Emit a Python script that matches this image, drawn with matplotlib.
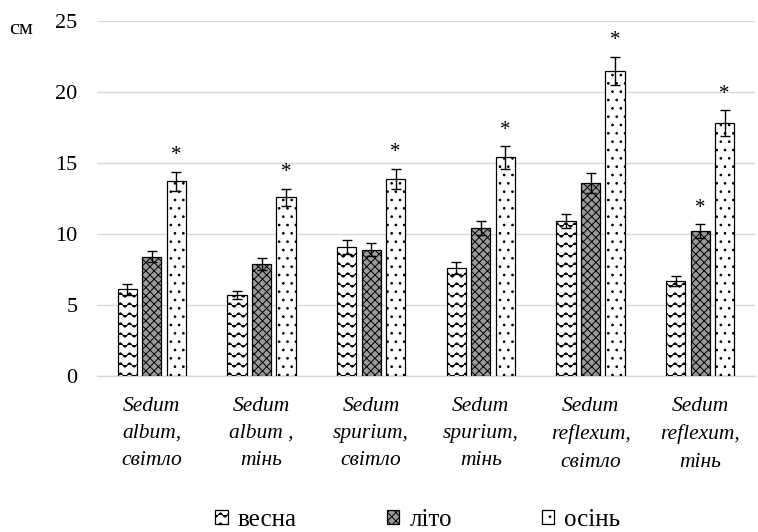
import numpy as np
import matplotlib
matplotlib.use("Agg")
import matplotlib.pyplot as plt
import matplotlib.hatch as mhatch
from matplotlib.path import Path

# ---------------- data ----------------
categories = ["Sedum\nalbum,\nсвітло", "Sedum\nalbum ,\nтінь", "Sedum\nspurium,\nсвітло",
              "Sedum\nspurium,\nтінь", "Sedum\nreflexum,\nсвітло", "Sedum\nreflexum,\nтінь"]
series_names = ["весна", "літо", "осінь"]
spring = [6.1, 5.7, 9.1, 7.6, 10.9, 6.7]
summer = [8.4, 7.9, 8.9, 10.4, 13.6, 10.2]
autumn = [13.7, 12.6, 13.9, 15.4, 21.5, 17.8]
spring_err = [0.4, 0.3, 0.5, 0.4, 0.5, 0.35]
summer_err = [0.4, 0.4, 0.45, 0.5, 0.7, 0.5]
autumn_err = [0.7, 0.6, 0.7, 0.8, 1.0, 0.9]
# significance marks (1 = asterisk)
spring_sig = [0, 0, 0, 0, 0, 0]
summer_sig = [0, 0, 0, 0, 0, 1]
autumn_sig = [1, 1, 1, 1, 1, 1]
yticks = [0, 5, 10, 15, 20, 25]
unit_label = "см"


# ---------------- custom wave hatch (replaces '-') ----------------
class WaveHatch(mhatch.HatchPatternBase):
    pts_per_period = 8

    def __init__(self, hatch, density):
        n = hatch.count('-') + hatch.count('+')
        self.num_rows = int(n * 5)
        self.periods = int(n * 5.5)
        if self.num_rows:
            self.npts = self.periods * self.pts_per_period + 1
            self.num_vertices = self.num_rows * self.npts
        else:
            self.num_vertices = 0

    def set_vertices_and_codes(self, vertices, codes):
        n = self.npts
        x = np.linspace(0, 1, n)
        amp = 0.22 / self.num_rows
        for k in range(self.num_rows):
            y0 = (k + 0.5) / self.num_rows
            y = y0 + amp * np.sin(2 * np.pi * self.periods * x)
            vertices[k * n:(k + 1) * n, 0] = x
            vertices[k * n:(k + 1) * n, 1] = y
            codes[k * n] = Path.MOVETO
            codes[k * n + 1:(k + 1) * n] = Path.LINETO


mhatch._hatch_types[0] = WaveHatch

plt.rcParams['font.family'] = ['Liberation Serif', 'DejaVu Serif']
plt.rcParams['hatch.linewidth'] = 0.7

fig = plt.figure(figsize=(7.58, 5.32), dpi=100)
W, H = 758, 532
ax = fig.add_axes([97 / W, 1 - 376 / H, (755 - 97) / W, (376 - 21) / H])

x = np.arange(len(categories))
off = 0.223
bw = 0.175
styles = [
    dict(facecolor='white', hatch='--'),
    dict(facecolor='#9a9a9a', hatch='xxxx'),
    dict(facecolor='white', hatch='..'),
]
vals = [spring, summer, autumn]
errs = [spring_err, summer_err, autumn_err]
sigs = [spring_sig, summer_sig, autumn_sig]
for i, (v, e, s, st, name) in enumerate(zip(vals, errs, sigs, styles, series_names)):
    pos = x + (i - 1) * off
    ax.bar(pos, v, bw, edgecolor='black', linewidth=0.9, label=name, zorder=3, **st)
    ax.errorbar(pos, v, yerr=e, fmt='none', ecolor='black', elinewidth=1,
                capsize=3.3, capthick=1, zorder=4)
    for p, val, err, sig in zip(pos, v, e, s):
        if sig:
            ax.text(p, val + err + 0.45, '*', ha='center', va='bottom',
                    fontsize=15, zorder=5)

ax.set_xlim(-0.5, len(categories) - 0.5)
ax.set_ylim(0, 25)
ax.set_yticks(yticks)
ax.set_yticklabels([str(t) for t in yticks], fontsize=16)
ax.set_xticks(x)
ax.set_xticklabels(categories, fontsize=15.5, style='italic', linespacing=1.58)
ax.tick_params(axis='both', length=0)
ax.tick_params(axis='y', pad=14)
ax.tick_params(axis='x', pad=15)
ax.grid(axis='y', color='#d9d9d9', linewidth=1, zorder=0)
ax.set_axisbelow(True)
for sp in ['top', 'right', 'left']:
    ax.spines[sp].set_visible(False)
ax.spines['bottom'].set_color('#d9d9d9')
ax.spines['bottom'].set_linewidth(1)

fig.text(9 / W, 1 - 30 / H, unit_label, fontsize=16, ha='left', va='center')

leg = fig.legend(loc='center', bbox_to_anchor=(418 / W, 1 - 520 / H), ncol=3,
                 frameon=False, fontsize=18, handlelength=0.5, handleheight=0.5,
                 handletextpad=0.4, columnspacing=3.6)

fig.savefig('out.png', dpi=100)
